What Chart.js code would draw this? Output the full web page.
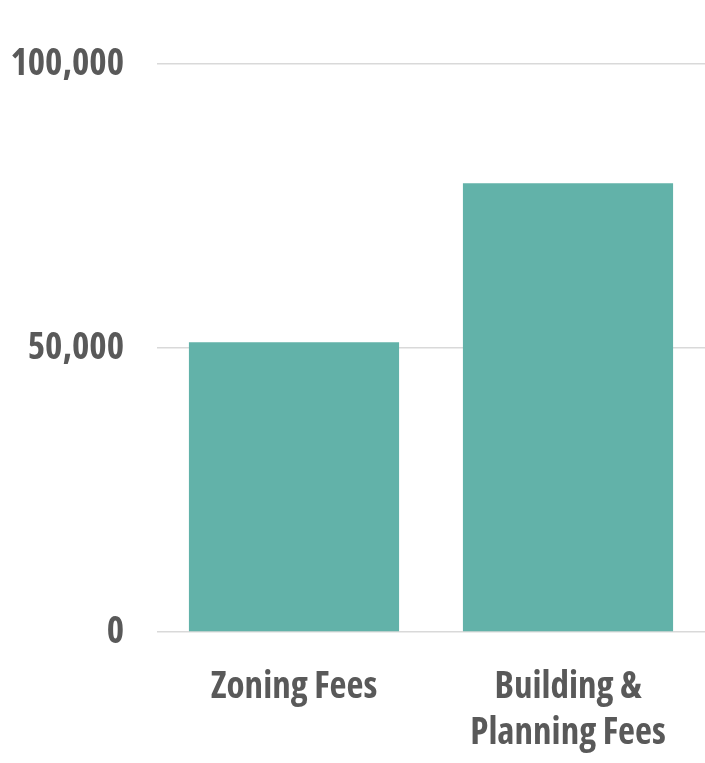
<!DOCTYPE html>
<html>
<head>
<meta charset="utf-8">
<script src="https://cdn.jsdelivr.net/npm/chart.js@4"></script>
<style>
  html, body { margin: 0; padding: 0; background: #fff; overflow: hidden; }
  #wrap { width: 705px; height: 763px; position: relative; }
</style>
</head>
<body>
<div id="wrap"><canvas id="barChart"></canvas></div>
<script>
const labels = ['Zoning Fees', ['Building &', 'Planning Fees']];
const fees = [51000, 79000];
const yTicks = [0, 50000, 100000];

const ctx = document.getElementById('barChart');

// condensed face of Open Sans, passed through the weight part of the font string
const labelFont = '"Open Sans", "DejaVu Sans Condensed", sans-serif';

const data = {
  labels: labels,
  datasets: [
    {
      label: 'Fees',
      data: fees,
      backgroundColor: '#62b2a9',
      borderWidth: 0,
      barPercentage: 0.767,
      categoryPercentage: 1,
    },
  ],
};

const config = {
  type: 'bar',
  data: data,
  options: {
    responsive: true,
    maintainAspectRatio: false,
    animation: false,
    layout: { padding: { top: 64, right: 0, bottom: 0, left: 0 } },
    plugins: {
      legend: { display: false },
      tooltip: { enabled: false },
    },
    scales: {
      x: {
        grid: { display: false },
        border: { display: false },
        ticks: {
          color: '#595959',
          font: { family: labelFont, size: 37, weight: 'bold condensed', lineHeight: 1.243 },
          padding: 24,
          maxRotation: 0,
        },
        afterFit: (scale) => { scale.height = 131; },
      },
      y: {
        min: 0,
        max: 100000,
        afterBuildTicks: (scale) => { scale.ticks = yTicks.map((v) => ({ value: v })); },
        grid: { color: '#d9d9d9', lineWidth: 1.5, drawTicks: false },
        border: { display: false },
        ticks: {
          color: '#595959',
          font: { family: labelFont, size: 37, weight: 'bold condensed' },
          padding: 33,
          callback: (v) => v.toLocaleString('en-US'),
        },
        afterFit: (scale) => { scale.width = 157; },
      },
    },
  },
};

const myChart = new Chart(ctx, config);
</script>
</body>
</html>
